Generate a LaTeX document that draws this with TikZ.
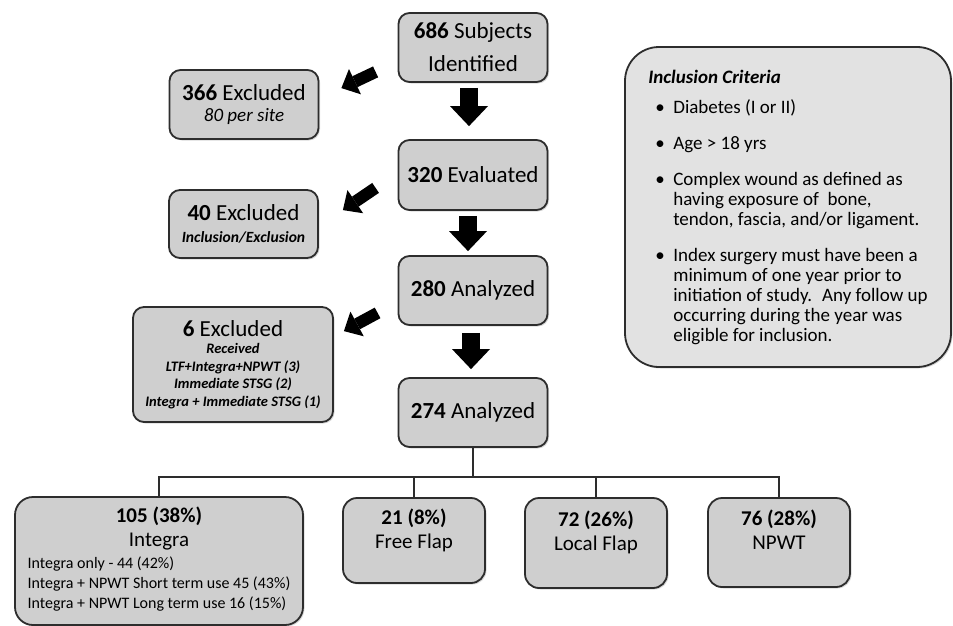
\documentclass[tikz,border=0pt]{standalone}
\usepackage{fontspec}
\setmainfont{Carlito}
\usepackage{xcolor}
\usepackage{tikz}
\usetikzlibrary{arrows.meta, positioning, calc, shadows}
\definecolor{boxgray}{RGB}{207,207,207}
\definecolor{critgray}{RGB}{226,226,226}
\definecolor{edgegray}{RGB}{45,45,45}
\newcommand{\boxfont}{\fontsize{23}{30}\selectfont}
\newcommand{\catfont}{\fontsize{21}{24}\selectfont}
\newcommand{\notefont}{\fontsize{16}{20}\selectfont}
\newcommand{\sitefont}{\fontsize{19}{22}\selectfont}
\newcommand{\smallnote}{\fontsize{14.5}{17.5}\selectfont}
\newcommand{\critfont}{\fontsize{19}{20}\selectfont}
\newcommand{\critem}{\hspace*{7pt}\makebox[18pt][l]{\textbullet}}
\newcommand{\crcont}{\hspace*{25pt}}

\begin{document}
\begin{tikzpicture}[x=1pt, y=-1pt,
    flowbox/.style={draw=edgegray, line width=1.8pt, fill=boxgray, rounded corners=11pt,
      align=center, font=\boxfont, minimum width=149pt, minimum height=69pt, inner sep=2pt,
      drop shadow={shadow xshift=1.5pt, shadow yshift=-1.5pt, opacity=0.3}},
    catbox/.style={flowbox, font=\catfont, minimum width=142pt, rounded corners=14pt},
    critbox/.style={flowbox, fill=critgray, rounded corners=34pt, align=left, font=\critfont,
      minimum width=326pt, minimum height=320pt},
    downarrow/.style={line width=18pt, -{Triangle[length=20pt, width=38pt, line width=0pt]}},
    sidearrow/.style={line width=12pt, -{Triangle[length=15pt, width=28pt, line width=0pt]}},
    treeline/.style={draw=edgegray, line width=2pt}]
    \useasboundingbox (0,0) rectangle (953,626);

    % Main column
    \node[flowbox] (subj) at (473,47.5) {\textbf{686} Subjects\\[3pt]Identified};
    \node[flowbox, minimum height=70pt] (eval) at (473,175) {\textbf{320} Evaluated};
    \node[flowbox] (ana1) at (473,290.5) {\textbf{280} Analyzed};
    \node[flowbox] (ana2) at (473,412.5) {\textbf{274} Analyzed};

    % Exclusions
    \node[flowbox] (excl1) at (244,104.5) {\textbf{366} Excluded\\[-9pt]{\sitefont\itshape 80 per site}};
    \node[flowbox, minimum height=68pt] (excl2) at (243.5,224)
      {\textbf{40} Excluded\\[-8pt]{\fontsize{15.6}{18}\selectfont\bfseries\itshape Inclusion/Exclusion}};
    \node[flowbox, minimum width=200pt, minimum height=115pt, font=\smallnote] (excl3) at (233,364.5) {
      {\boxfont\textbf{6} Excluded}\\
      {\bfseries\itshape Received}\\
      {\bfseries\itshape LTF+Integra+NPWT (3)}\\
      {\bfseries\itshape Immediate STSG (2)}\\
      {\bfseries\itshape Integra + Immediate STSG (1)}
    };

    % Inclusion criteria
    \node[critbox] (crit) at (788,207) {
      {\bfseries\itshape Inclusion Criteria}\\[10pt]
      \critem Diabetes (I or II)\\[16pt]
      \critem Age > 18 yrs\\[16pt]
      \critem Complex wound as defined as\\
      \crcont having exposure of~ bone,\\
      \crcont tendon, fascia, and/or ligament.\\[16pt]
      \critem Index surgery must have been a\\
      \crcont minimum of one year prior to\\
      \crcont initiation of study.~ Any follow up\\
      \crcont occurring during the year was\\
      \crcont eligible for inclusion.
    };

    % Treatment groups
    \node[catbox, minimum width=288pt, minimum height=128pt, rounded corners=18pt] (integra) at (159,561) {
      \textbf{105 (38\%)}\\
      Integra\\[-2pt]
      {\notefont\begin{tabular}[t]{@{}l@{}}
        Integra only - 44 (42\%)\\
        Integra + NPWT Short term use 45 (43\%)\\
        Integra + NPWT Long term use 16 (15\%)
      \end{tabular}}
    };
    \node[catbox, minimum height=85pt] (free) at (414,540.5) {\textbf{21 (8\%)}\\Free Flap\rule[-23pt]{0pt}{1pt}};
    \node[catbox, minimum height=90pt] (local) at (596,543) {\textbf{72 (26\%)}\\Local Flap\rule[-25pt]{0pt}{1pt}};
    \node[catbox, minimum height=89pt] (npwt) at (779,542.5) {\textbf{76 (28\%)}\\NPWT\rule[-26pt]{0pt}{1pt}};

    % Flow arrows
    \draw[downarrow] ([xshift=-4pt, yshift=-5pt]subj.south) -- ([xshift=-4pt, yshift=13pt]eval.north);
    \draw[downarrow] ([xshift=-5pt, yshift=-5pt]eval.south) -- ([xshift=-5pt, yshift=4pt]ana1.north);
    \draw[downarrow] ([xshift=-2pt, yshift=-7pt]ana1.south) -- ([xshift=-2pt, yshift=8pt]ana2.north);
    \draw[sidearrow] ($(subj.south west)+(-22,-11)$) -- ($(excl1.north east)+(22,19)$);
    \draw[sidearrow] ($(eval.south west)+(-22,-23)$) -- ($(excl2.north east)+(24,21)$);
    \draw[sidearrow] ($(ana1.south west)+(-20,-13)$) -- ($(excl3.north east)+(10,25)$);

    % Split into groups
    \coordinate (bus) at ($(ana2.south)+(0,29)$);
    \draw[treeline] (ana2.south) -- (bus) -| (integra.north);
    \foreach \grp in {free, local, npwt} {
      \draw[treeline] (bus) -| (\grp.north);
    }
  \end{tikzpicture}
\end{document}
